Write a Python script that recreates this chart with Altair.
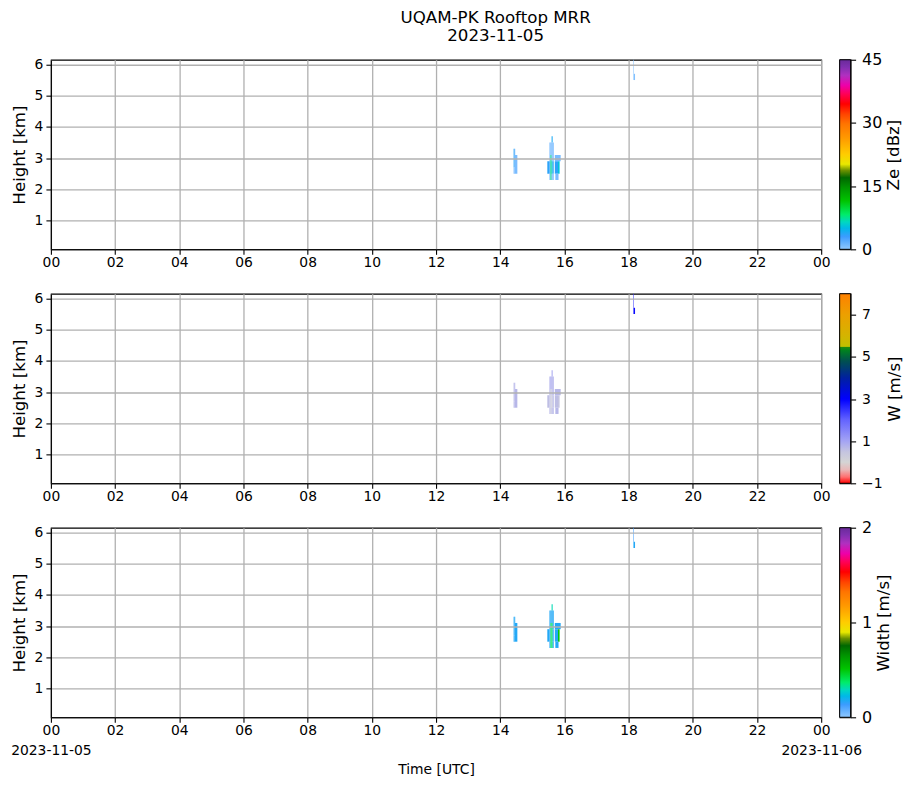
import altair as alt
import pandas as pd

# ---------------- data ----------------
# range-gate cells: start / end minute of day (UTC), gate bottom / top (km)
t_start = [865, 867, 865, 867, 928, 932, 932, 932, 934, 934, 936, 936, 936, 936, 936,
           938, 938, 938, 942, 942, 948, 943, 1089, 1089]
t_end   = [867, 868, 867, 872, 932, 934, 934, 934, 936, 936, 938, 938, 938, 938, 938,
           940, 940, 940, 953, 948, 951, 949, 1090, 1092]
h_bot   = [2.7, 3.1, 2.5, 2.5, 2.5, 2.9, 2.5, 2.3, 3.1, 2.3, 3.5, 3.1, 2.9, 2.5, 2.3,
           2.9, 2.5, 2.3, 2.9, 2.5, 2.5, 2.3, 5.7, 5.5]
h_top   = [3.3, 3.3, 2.7, 3.1, 2.9, 3.5, 2.9, 2.5, 3.5, 3.1, 3.7, 3.5, 3.1, 2.9, 2.5,
           3.5, 2.9, 2.5, 3.1, 2.9, 2.9, 2.5, 6.15, 5.7]
ze_dbz  = [3.5, 1.0, 1.0, 0.8, 3.5, 0.8, 3.5, 0.8, 0.8, 8.0, 4.0, 1.0, 1.0, 5.5, 1.0,
           0.8, 3.5, 0.8, 0.8, 3.5, 5.5, 0.8, 0.3, 0.5]
w_ms    = [0.7, 0.8, 0.7, 0.7, 0.6, 0.8, 0.6, 0.7, 0.9, 0.3, 0.9, 0.8, 0.6, 0.3, 0.7,
           0.8, 0.7, 0.7, 0.7, 0.6, 0.5, 0.7, 2.4, 2.9]
sw_ms   = [0.17, 0.17, 0.17, 0.17, 0.17, 0.17, 0.17, 0.17, 0.17, 0.38, 0.3, 0.17, 0.38, 0.38,
           0.38, 0.17, 0.17, 0.17, 0.17, 0.17, 0.5, 0.17, 0.12, 0.17]

# axis ticks / labels
hour_ticks = list(range(0, 25, 2))
hour_text = ['00', '02', '04', '06', '08', '10', '12', '14', '16', '18', '20', '22', '00']
date_text = {0: '2023-11-05', 24: '2023-11-06'}
height_ticks = [1, 2, 3, 4, 5, 6]
height_domain = [0.08, 6.15]

# colormaps
ze_stops = [0, 3, 5, 6.5, 8.3, 11.5, 14.7, 17, 18.7, 20.2, 22.6, 26.2, 29.8, 32.1,
            34.5, 36.9, 38.9, 41.3, 43.3, 45]
ze_colors = ['#90c8ff', '#3c9cff', '#00b8e8', '#00d8c0', '#00ec68', '#00c400', '#009400',
             '#006800', '#6a9000', '#e8e800', '#ffcc00', '#ff9c00', '#ff7400', '#ff4400',
             '#ff0000', '#ff0058', '#ee00aa', '#b030c0', '#8030b0', '#6a2a9a']
ze_ticks = [0, 15, 30, 45]
w_stops = [-1, -0.7, -0.35, 0, 0.5, 1, 2, 3, 4, 4.8, 5.3, 5.45, 5.5, 6, 7, 8]
w_colors = ['#ff0000', '#ff7070', '#e8b8b8', '#d4d4d4', '#c4c4e0', '#a4a4f4', '#6464ff',
            '#0000ff', '#0020a0', '#005050', '#008020', '#1a8a10', '#c0c000', '#d4b400',
            '#eca000', '#ff8000']
w_ticks = [-1, 1, 3, 5, 7]
sw_stops = [s * 2 / 45 for s in ze_stops]
sw_colors = ze_colors
sw_ticks = [0, 1, 2]

df = pd.DataFrame({
    't0': [t / 60 for t in t_start], 't1': [t / 60 for t in t_end],
    'h0': h_bot, 'h1': h_top, 'ze': ze_dbz, 'w': w_ms, 'sw': sw_ms,
})

FONT = 'DejaVu Sans'
W_PLOT, H_PLOT = 772, 190


def label_expr(with_dates):
    expr = "''"
    for h, t in reversed(list(zip(hour_ticks, hour_text))):
        if with_dates and h in date_text:
            lab = "['%s', '%s']" % (t, date_text[h])
        else:
            lab = "'%s'" % t
        expr = "datum.value == %d ? %s : (%s)" % (h, lab, expr)
    return expr


def panel(field, stops, colors, bottom):
    xaxis = alt.Axis(values=hour_ticks, labelExpr=label_expr(bottom), labelOverlap=False,
                     labelFlush=False, labelLineHeight=20.5, labelPadding=1,
                     title='Time [UTC]' if bottom else None, titleFontSize=13.9,
                     titleFontWeight='normal', titlePadding=5, grid=True,
                     gridColor='#b0b0b0', gridWidth=1.3, zindex=1)
    yaxis = alt.Axis(values=height_ticks, title='Height [km]', titleFontSize=16.7,
                     titleFontWeight='normal', titlePadding=6, grid=True,
                     gridColor='#b0b0b0', gridWidth=1.3, zindex=1)
    return alt.Chart(df).mark_rect().encode(
        x=alt.X('t0:Q', scale=alt.Scale(domain=[0, 24], nice=False, zero=False), axis=xaxis),
        x2='t1:Q',
        y=alt.Y('h0:Q', scale=alt.Scale(domain=height_domain, nice=False, zero=False), axis=yaxis),
        y2='h1:Q',
        color=alt.Color(field + ':Q', scale=alt.Scale(domain=stops, range=colors,
                                                        interpolate='rgb', clamp=True),
                        legend=None),
    ).properties(width=W_PLOT, height=H_PLOT)


def colorbar(stops, colors, title, ticks, label_size):
    lo, hi = stops[0], stops[-1]
    grad = alt.Gradient(gradient='linear', x1=0, x2=0, y1=1, y2=0,
                        stops=[alt.GradientStop(offset=(s - lo) / (hi - lo), color=c)
                               for s, c in zip(stops, colors)])
    d = pd.DataFrame({'a': [0], 'b': [1], 'lo': [lo], 'hi': [hi]})
    return alt.Chart(d).mark_rect(fill=grad, stroke='black', strokeWidth=1).encode(
        x=alt.X('a:Q', scale=alt.Scale(domain=[0, 1]), axis=None),
        x2='b:Q',
        y=alt.Y('lo:Q', scale=alt.Scale(domain=[lo, hi], nice=False, zero=False),
                axis=alt.Axis(orient='right', values=ticks, title=title, titleAngle=270,
                              titleBaseline='top', titleFontSize=16.7, titleFontWeight='normal',
                              titlePadding=4, labelFontSize=label_size, labelPadding=6,
                              grid=False, domain=False, zindex=1,
                              labelExpr="replace(format(datum.value, 'd'), '-', '\u2212')")),
        y2='hi:Q',
    ).properties(width=11, height=H_PLOT)


chart = alt.concat(
    panel('ze', ze_stops, ze_colors, False),
    colorbar(ze_stops, ze_colors, 'Ze [dBz]', ze_ticks, 16),
    panel('w', w_stops, w_colors, False),
    colorbar(w_stops, w_colors, 'W [m/s]', w_ticks, 14),
    panel('sw', sw_stops, sw_colors, True),
    colorbar(sw_stops, sw_colors, 'Width [m/s]', sw_ticks, 16),
    columns=2, spacing={'row': 44.5, 'column': 18.5}, bounds='flush',
).properties(
    title=alt.TitleParams(text=['UQAM-PK Rooftop MRR', '2023-11-05'], fontSize=16.7,
                          fontWeight='normal', font=FONT, anchor='middle', lineHeight=18,
                          offset=7, dx=39),
    padding={'left': 2, 'top': 0, 'right': 2, 'bottom': 2},
).resolve_scale(color='independent', y='independent', x='independent').configure(
    font=FONT
).configure_view(
    stroke='black', strokeWidth=1.1
).configure_axis(
    labelFont=FONT, titleFont=FONT, labelFontSize=13.9, labelColor='black', titleColor='black',
    domainColor='black', domainWidth=1.1, tickColor='black', tickWidth=1.1, tickSize=5,
    labelPadding=2
).configure_axisY(labelPadding=3)

chart.save('out.html', embed_options={'renderer': 'svg', 'actions': False})
